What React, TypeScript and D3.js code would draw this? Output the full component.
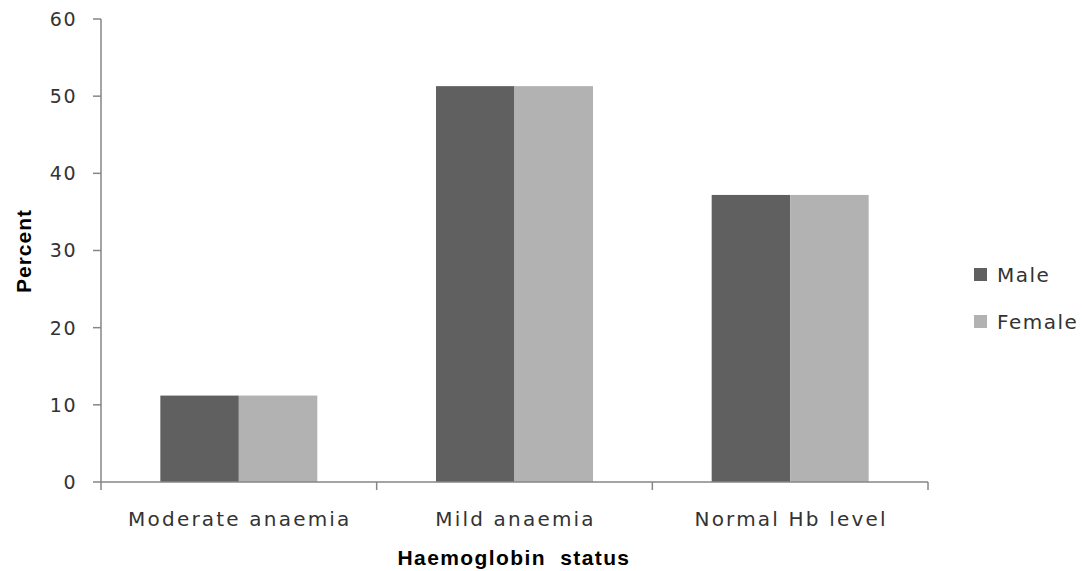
import React from "react";
import * as d3 from "d3";

const categories = ["Moderate anaemia", "Mild anaemia", "Normal Hb level"];
const seriesNames = ["Male", "Female"];
const maleValues = [11.2, 51.3, 37.2];
const femaleValues = [11.2, 51.3, 37.2];
const yTicks = [0, 10, 20, 30, 40, 50, 60];
const colors = ["#606060", "#b2b2b2"];

const W = 1084;
const H = 571;

export default function App() {
  const x0 = d3.scaleBand<string>().domain(categories).range([101, 928]).paddingInner(0).paddingOuter(0);
  const x1 = d3.scaleBand<string>().domain(seriesNames).range([0, x0.bandwidth()]).paddingInner(0).paddingOuter(0.756);
  const y = d3.scaleLinear().domain([0, 60]).range([482, 19]);
  const values = [maleValues, femaleValues];
  const axisColor = "#868686";
  const textColor = "#333333";
  const boundaries = [...categories.map((c) => x0(c) as number), x0.range()[1]];

  return (
    <svg width={W} height={H} style={{ position: "absolute", left: 0, top: 0, background: "#fff" }}>
      {/* bars */}
      {categories.map((c, i) => (
        <g key={c}>
          {seriesNames.map((s, j) => (
            <rect
              key={s}
              x={(x0(c) as number) + (x1(s) as number)}
              y={y(values[j][i])}
              width={x1.bandwidth()}
              height={y(0) - y(values[j][i])}
              fill={colors[j]}
            />
          ))}
        </g>
      ))}
      {/* y axis */}
      <line x1={101} x2={101} y1={y(60)} y2={y(0)} stroke={axisColor} strokeWidth={1.5} />
      {yTicks.map((t) => (
        <g key={t}>
          <line x1={93} x2={101} y1={y(t)} y2={y(t)} stroke={axisColor} strokeWidth={1.5} />
          <text
            x={77}
            y={y(t)}
            dy="0.36em"
            textAnchor="end"
            fontFamily="DejaVu Sans"
            fontSize={19}
            letterSpacing={1.5}
            fill={textColor}
          >
            {t}
          </text>
        </g>
      ))}
      {/* x axis */}
      <line x1={101} x2={928} y1={y(0)} y2={y(0)} stroke={axisColor} strokeWidth={1.5} />
      {boundaries.map((b, i) => (
        <line key={i} x1={b} x2={b} y1={y(0)} y2={y(0) + 8} stroke={axisColor} strokeWidth={1.5} />
      ))}
      {categories.map((c) => (
        <text
          key={c}
          x={(x0(c) as number) + x0.bandwidth() / 2 + 1}
          y={526}
          textAnchor="middle"
          fontFamily="DejaVu Sans"
          fontSize={20}
          letterSpacing={2.2}
          fill={textColor}
        >
          {c}
        </text>
      ))}
      {/* axis titles */}
      <text
        x={514}
        y={565}
        textAnchor="middle"
        fontFamily="Liberation Sans"
        fontWeight="bold"
        fontSize={21}
        letterSpacing={1.4}
        wordSpacing={7}
        fill="#000"
      >
        Haemoglobin status
      </text>
      <text
        transform={`translate(31, 251) rotate(-90)`}
        textAnchor="middle"
        fontFamily="Liberation Sans"
        fontWeight="bold"
        fontSize={21}
        letterSpacing={1}
        fill="#000"
      >
        Percent
      </text>
      {/* legend */}
      {seriesNames.map((s, j) => (
        <g key={s} transform={`translate(974, ${275 + j * 47})`}>
          <rect x={0} y={-7} width={13} height={13} fill={colors[j]} />
          <text x={23} y={0} dy="0.36em" fontFamily="DejaVu Sans" fontSize={20} letterSpacing={1.5} fill={textColor}>
            {s}
          </text>
        </g>
      ))}
    </svg>
  );
}
